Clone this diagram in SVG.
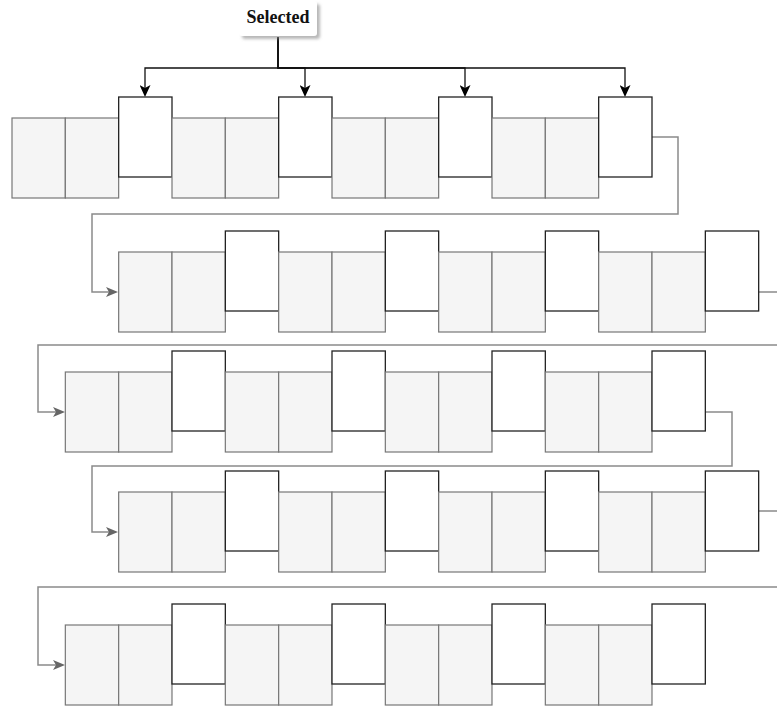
<svg xmlns="http://www.w3.org/2000/svg" width="777" height="706" viewBox="0 0 777 706">
<defs>
<style>
.g{fill:#f5f5f5;stroke:#777;stroke-width:1.2}
.w{fill:#fff;stroke:#222;stroke-width:1.3}
.c{fill:none;stroke:#8a8a8a;stroke-width:1.5}
.k{fill:none;stroke:#111;stroke-width:1.3}
.lbl{font-family:"Liberation Serif",serif;font-weight:bold;font-size:18px;fill:#111;text-anchor:middle}
</style>
<marker id="ag" markerUnits="userSpaceOnUse" viewBox="0 0 12 10" refX="3" refY="5" markerWidth="12" markerHeight="10" orient="auto"><path d="M0,0 L12,5 L0,10 L3,5 Z" fill="#666"/></marker>
<marker id="ak" markerUnits="userSpaceOnUse" viewBox="0 0 12 11" refX="3" refY="5.5" markerWidth="12" markerHeight="11" orient="auto"><path d="M0,0 L12,5.5 L0,11 L3,5.5 Z" fill="#000"/></marker>
<filter id="sh" x="-20%" y="-30%" width="150%" height="170%"><feDropShadow dx="3" dy="3" stdDeviation="1.5" flood-color="#888" flood-opacity="0.6"/></filter>
<g id="unit"><rect class="g" x="0" y="21" width="53.33" height="80"/><rect class="g" x="53.33" y="21" width="53.33" height="80"/><rect class="w" x="106.67" y="0" width="53.33" height="80"/></g>
</defs>
<g id="connectors">
<path class="c" d="M652,137 H678 V214 H92 V292 H109" marker-end="url(#ag)"/>
<path class="c" d="M758.7,292 H790 V345 H38 V412 H56" marker-end="url(#ag)"/>
<path class="c" d="M705.3,412 H732 V466 H92 V532 H109" marker-end="url(#ag)"/>
<path class="c" d="M758.7,511 H790 V587 H38 V665 H56" marker-end="url(#ag)"/>
<path class="k" d="M278,37 V68 H145 V88" marker-end="url(#ak)"/>
<path class="k" d="M278,37 V68 H305 V88" marker-end="url(#ak)"/>
<path class="k" d="M278,37 V68 H465 V88" marker-end="url(#ak)"/>
<path class="k" d="M278,37 V68 H625 V88" marker-end="url(#ak)"/>
</g>
<g id="selected">
<rect x="239" y="1" width="78" height="35" rx="3" fill="#fff" filter="url(#sh)"/>
<text class="lbl" x="278" y="23">Selected</text>
</g>
<g id="row1">
<use href="#unit" x="12" y="97"/><use href="#unit" x="172" y="97"/><use href="#unit" x="332" y="97"/><use href="#unit" x="492" y="97"/>
</g>
<g id="row2">
<use href="#unit" x="118.67" y="231"/><use href="#unit" x="278.67" y="231"/><use href="#unit" x="438.67" y="231"/><use href="#unit" x="598.67" y="231"/>
</g>
<g id="row3">
<use href="#unit" x="65.33" y="351"/><use href="#unit" x="225.33" y="351"/><use href="#unit" x="385.33" y="351"/><use href="#unit" x="545.33" y="351"/>
</g>
<g id="row4">
<use href="#unit" x="118.67" y="471"/><use href="#unit" x="278.67" y="471"/><use href="#unit" x="438.67" y="471"/><use href="#unit" x="598.67" y="471"/>
</g>
<g id="row5">
<use href="#unit" x="65.33" y="604"/><use href="#unit" x="225.33" y="604"/><use href="#unit" x="385.33" y="604"/><use href="#unit" x="545.33" y="604"/>
</g>
</svg>
